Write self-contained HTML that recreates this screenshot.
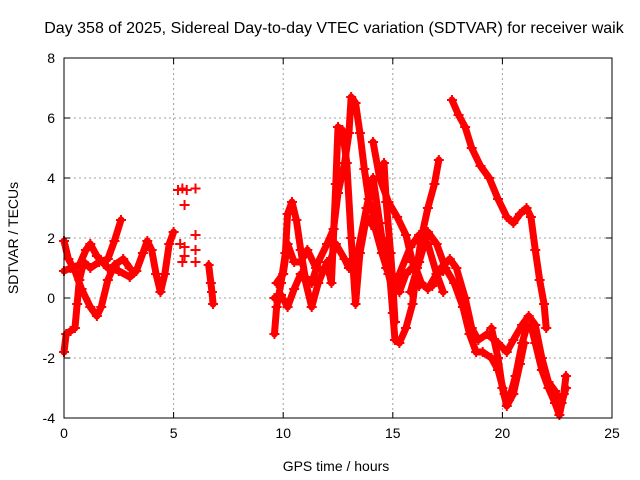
<!DOCTYPE html>
<html><head><meta charset="utf-8"><style>
body{margin:0;background:#fff}
svg{display:block;font-family:"Liberation Sans",Arial,sans-serif}
</style></head><body>
<svg id="chart" width="640" height="480">
<text x="334" y="33" text-anchor="middle" font-size="16">Day 358 of 2025, Sidereal Day-to-day VTEC variation (SDTVAR) for receiver waik</text>
<g id="grid"></g><g id="marks"></g><g id="axes"></g>
<text x="336" y="471" text-anchor="middle" font-size="14">GPS time / hours</text>
<text transform="translate(18,238) rotate(-90)" text-anchor="middle" font-size="14">SDTVAR / TECUs</text>
</svg>
<script>
const xTicks=[0,5,10,15,20,25];
const yTicks=[-4,-2,0,2,4,6,8];
const trackA1=[[0,0.9],[0.3,1.0],[0.7,1.1],[1.0,1.6],[1.2,1.8],[1.5,1.4],[2.0,1.0],[2.5,0.9],[3.0,0.7],[3.3,0.9],[3.6,1.5],[3.8,1.9],[4.0,1.6],[4.2,0.8],[4.4,0.2],[4.6,0.8],[4.8,1.8],[5.0,2.2]];
const trackA2=[[0,-1.8],[0.1,-1.2],[0.3,-1.1],[0.5,-1.0],[0.6,-0.2],[0.7,0.6],[0.9,1.2],[1.2,1.0],[1.6,1.2],[2.0,1.3],[2.3,1.9],[2.6,2.6]];
const trackA3=[[0,1.9],[0.2,1.3],[0.5,0.9],[0.8,0.3],[1.2,-0.3],[1.5,-0.6],[1.7,-0.3],[2.0,0.6],[2.3,1.1],[2.7,1.3],[3.0,1.0]];
const trackA4=[[6.6,1.1],[6.7,0.5],[6.75,0.2],[6.8,-0.2]];
const isolated=[[5.2,3.6],[5.4,3.65],[5.6,3.6],[6.0,3.65],[5.5,3.1],[5.3,1.8],[5.5,1.7],[5.5,1.4],[5.4,1.2],[6.0,2.1],[6.0,1.6],[6.0,1.2]];
const trackB1=[[9.6,-1.2],[9.7,-0.3],[9.9,0.5],[10.1,1.5],[10.2,2.8],[10.4,3.2],[10.6,2.6],[10.8,1.6],[11.0,0.7],[11.3,0.5],[11.6,1.2],[12.0,1.8],[12.3,2.3],[12.5,3.5],[12.8,4.5],[13.0,5.5],[13.1,6.7],[13.3,6.5],[13.5,5.5],[13.7,4.3],[13.9,3.3],[14.2,2.5],[14.5,2.0],[14.8,1.3],[15.0,-0.5],[15.1,-1.4],[15.3,-1.5],[15.6,-1.0],[15.9,-0.2],[16.1,1.0],[16.3,2.0],[16.6,3.0],[16.9,3.8],[17.1,4.6]];
const trackB2=[[9.6,0],[9.9,0.1],[10.2,-0.3],[10.5,0.3],[10.8,0.8],[11.0,0.6],[11.3,-0.3],[11.6,0.5],[12.0,1.2],[12.2,0.5],[12.4,3.8],[12.5,5.7],[12.7,5.6],[12.9,4.5],[13.1,2.0],[13.3,-0.2],[13.5,1.5],[13.8,2.7],[14.2,2.3],[14.5,1.5],[14.8,0.8],[15.0,0.2],[15.3,0.8],[15.8,1.7],[16.2,2.1],[16.6,1.8],[17.0,0.8],[17.3,0.2]];
const trackB3=[[9.7,0.5],[10.0,0.8],[10.2,1.8],[10.5,1.2],[10.8,1.2],[11.1,1.6],[11.5,1.0],[12.0,0.9],[12.4,1.8],[12.8,1.3],[13.0,1.0],[13.4,1.5],[13.8,3.0],[14.1,4.0],[14.4,2.5],[14.7,1.0],[15.0,0.5],[15.3,0.2],[15.6,0.8],[16.0,1.1],[16.3,0.5],[16.6,0.3],[17.0,0.8],[17.3,0.9]];
const trackB4=[[14.1,5.2],[14.4,4.0],[14.8,3.2],[15.2,2.7],[15.6,2.1],[15.9,1.2],[16.2,0.4]];
const trackB5=[[14.6,4.5],[14.7,3.2],[14.9,1.5],[15.0,0.5],[15.1,-0.8]];
const trackC1=[[17.7,6.6],[18.0,6.1],[18.3,5.7],[18.6,5.0],[19.0,4.4],[19.4,4.0],[19.8,3.3],[20.2,2.7],[20.5,2.5],[20.8,2.8],[21.1,3.0],[21.3,2.7],[21.5,1.6],[21.7,0.6],[21.9,-0.2],[22.0,-1.0]];
const trackC2=[[15.8,0.2],[16.2,1.2],[16.6,2.2],[17.0,1.8],[17.4,1.0],[17.8,0.5],[18.2,-0.3],[18.5,-1.2],[18.8,-1.8],[19.1,-1.8],[19.5,-2.0],[19.8,-2.4],[20.1,-3.2],[20.3,-3.4],[20.6,-2.6],[20.9,-1.5],[21.1,-1.0],[21.3,-0.9],[21.5,-1.5],[21.8,-2.4],[22.1,-3.0],[22.4,-3.5],[22.6,-3.9],[22.8,-3.2],[22.9,-2.6]];
const trackC3=[[16.8,0.4],[17.2,1.0],[17.6,1.3],[17.9,1.0],[18.3,0.0],[18.6,-1.0],[18.9,-1.4],[19.3,-1.2],[19.8,-1.5],[20.2,-1.8],[20.5,-1.4],[20.9,-0.9],[21.2,-0.6],[21.5,-0.9],[21.8,-2.0],[22.1,-2.8],[22.4,-3.1],[22.7,-3.5],[22.9,-3.0]];
const trackC4=[[19.5,-1.0],[19.8,-2.0],[20.0,-3.0],[20.2,-3.6],[20.5,-3.2],[20.8,-2.2],[21.0,-1.5]];
const tracks=[trackA1,trackA2,trackA3,trackA4,trackB1,trackB2,trackB3,trackB4,trackB5,trackC1,trackC2,trackC3,trackC4];

const L=64,R=612,T=58,B=418;
const xs=t=>L+(t-0)/(25-0)*(R-L);
const ys=v=>B-(v+4)/(8+4)*(B-T);
const NS='http://www.w3.org/2000/svg';
function mk(tag,attrs,parent){const e=document.createElementNS(NS,tag);for(const k in attrs)e.setAttribute(k,attrs[k]);parent.appendChild(e);return e;}
const grid=document.getElementById('grid'),axes=document.getElementById('axes'),marks=document.getElementById('marks');
xTicks.forEach(t=>{
  const x=xs(t);
  if(t>0&&t<25){const g=mk('line',{x1:x,x2:x,y1:T,y2:B,stroke:'#a0a0a0','stroke-dasharray':'2,3'},grid);
  
  }
  mk('line',{x1:x,x2:x,y1:B,y2:B-6,stroke:'#000'},axes);
  mk('line',{x1:x,x2:x,y1:T,y2:T+6,stroke:'#000'},axes);
  const tx=mk('text',{x:x,y:B+20,'text-anchor':'middle','font-size':'14'},axes);tx.textContent=t;
  
  
});
yTicks.forEach(v=>{
  const y=ys(v);
  if(v>-4&&v<8){const g=mk('line',{x1:L,x2:R,y1:y,y2:y,stroke:'#a0a0a0','stroke-dasharray':'2,3'},grid);
  
  }
  mk('line',{x1:L,x2:L+6,y1:y,y2:y,stroke:'#000'},axes);
  mk('line',{x1:R,x2:R-6,y1:y,y2:y,stroke:'#000'},axes);
  const tx=mk('text',{x:L-9,y:y+5,'text-anchor':'end','font-size':'14'},axes);tx.textContent=v;
  
  
});
const frame=mk('rect',{x:L,y:T,width:R-L,height:B-T,fill:'none',stroke:'#000'},axes);


function plus(t,v){const x=xs(t),y=ys(v);
  const p=mk('path',{d:`M${x-5},${y}h10M${x},${y-5}v10`,stroke:'#f00','stroke-width':'2'},marks);
  
  }
tracks.forEach(tr=>{
  const pl=mk('polyline',{points:tr.map(p=>xs(p[0])+','+ys(p[1])).join(' '),fill:'none',stroke:'#f00','stroke-width':'7','stroke-linejoin':'round','stroke-linecap':'round'},marks);
  
  
  tr.forEach(p=>plus(p[0],p[1]));
});
isolated.forEach(p=>plus(p[0],p[1]));
</script>
</body></html>
